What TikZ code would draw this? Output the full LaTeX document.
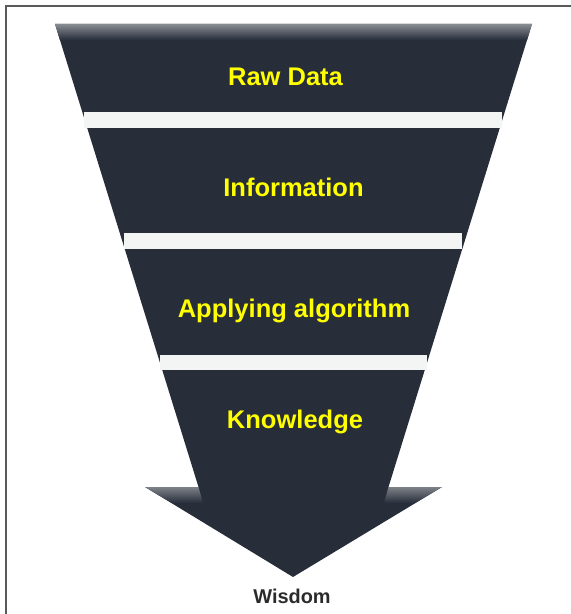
\documentclass[tikz,border=0pt]{standalone}
\usepackage{fontspec}
\setmainfont{Liberation Sans}
\usepackage{tikz}
\definecolor{funnel}{HTML}{272D39}
\definecolor{band}{HTML}{F3F5F4}
\definecolor{lvl}{HTML}{FFFF00}
\definecolor{frame}{HTML}{5A5A5A}
\definecolor{wis}{HTML}{2B2B2B}

\begin{document}
\begin{tikzpicture}[x=1bp,y=-1bp,
  lvl/.style={anchor=base,inner sep=0pt,text=lvl,font=\fontsize{25.6}{30}\selectfont\bfseries},
  bar/.style={fill=band,draw=none}]
\useasboundingbox (0,0) rectangle (571,614);
\draw[frame,line width=1.4bp] (6,614) -- (6,6) -- (571,6);

% funnel with the arrow head
\fill[funnel] (55,24) -- (532,24) -- (388.5,487) -- (442,487) -- (293,577) -- (145,487) -- (198.5,487) -- cycle;
\begin{scope}
\clip (55,24) -- (532,24) -- (388.5,487) -- (198.5,487) -- cycle;
\shade[top color=funnel!55!white,bottom color=funnel] (50,24) rectangle (540,40);
\end{scope}
\shade[top color=funnel!60!white,bottom color=funnel] (145,487) -- (198.5,487) -- (203,503) -- (172,503) -- cycle;
\shade[top color=funnel!60!white,bottom color=funnel] (442,487) -- (388.5,487) -- (384,503) -- (415,503) -- cycle;

\fill[bar] (84,112) rectangle (502,128);
\fill[bar] (124,233) rectangle (462,249);
\fill[bar] (160,355) rectangle (427,370);

\draw (285.5,86) node[lvl] (raw) {Raw Data};
\draw (293.5,196.7) node[lvl] (info) {Information};
\draw (294,317.3) node[lvl] (algo) {Applying algorithm};
\draw (295,428) node[lvl] (know) {Knowledge};
\draw (292,603) node[anchor=base,inner sep=0pt,text=wis,font=\fontsize{20}{24}\selectfont\bfseries] (wisdom) {Wisdom};

\end{tikzpicture}
\end{document}
